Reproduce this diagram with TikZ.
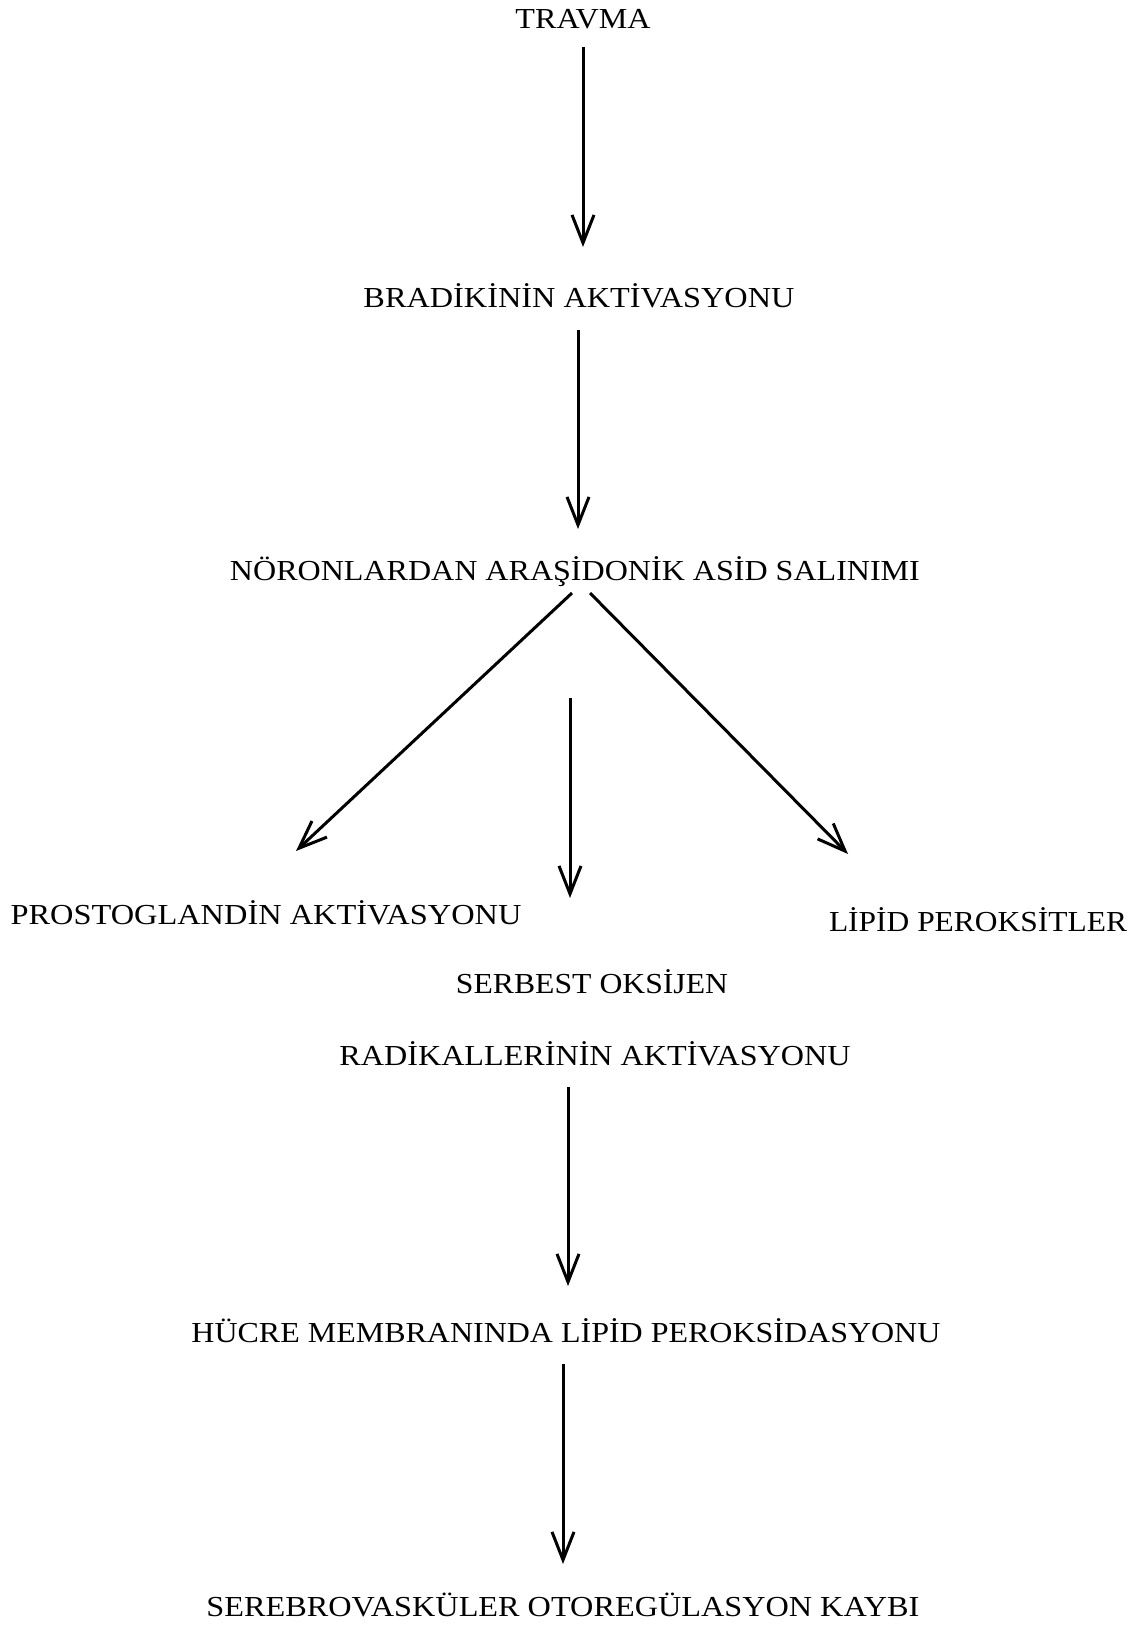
\documentclass[tikz,border=0pt]{standalone}
\usepackage{fontspec}
\setmainfont{Liberation Serif}
\usetikzlibrary{arrows.meta}
\newcommand\wfit[2]{\resizebox{#1pt}{\height}{#2}}
\tikzset{
  lbl/.style={inner sep=0pt, anchor=center, font=\fontsize{29}{32}\selectfont},
  arr/.style={line width=3pt, -{Straight Barb[length=28pt,width=22pt,line width=3pt]}}
}
\begin{document}
\begin{tikzpicture}[x=1pt,y=-1pt]
\useasboundingbox (0,0) rectangle (1140,1626);
\node[lbl] (tr) at (583,19) {\wfit{135}{TRAVMA}};
\node[lbl] (br) at (579,296) {\wfit{431}{BRADİKİNİN AKTİVASYONU}};
\node[lbl] (nr) at (575,572) {\wfit{690}{NÖRONLARDAN ARAŞİDONİK ASİD SALINIMI}};
\node[lbl] (pr) at (266,913) {\wfit{511}{PROSTOGLANDİN AKTİVASYONU}};
\node[lbl] (lp) at (978,920) {\wfit{298}{LİPİD PEROKSİTLER}};
\node[lbl] (so) at (592,982) {\wfit{272}{SERBEST OKSİJEN}};
\node[lbl] (ra) at (595,1054) {\wfit{511}{RADİKALLERİNİN AKTİVASYONU}};
\node[lbl] (hc) at (566,1331) {\wfit{749}{HÜCRE MEMBRANINDA LİPİD PEROKSİDASYONU}};
\node[lbl] (se) at (563,1605) {\wfit{713}{SEREBROVASKÜLER OTOREGÜLASYON KAYBI}};
\coordinate (a1s) at (583,47);  \coordinate (a1e) at (583,247);
\coordinate (a2s) at (578,330); \coordinate (a2e) at (578,529);
\coordinate (l1s) at (572,593); \coordinate (l1e) at (296,851);
\coordinate (r1s) at (590,593); \coordinate (r1e) at (848,854);
\coordinate (m1s) at (570,698); \coordinate (m1e) at (570,898);
\coordinate (a3s) at (568,1087); \coordinate (a3e) at (568,1286);
\coordinate (a4s) at (563,1364); \coordinate (a4e) at (563,1564);
\draw[arr] (a1s) -- (a1e);
\draw[arr] (a2s) -- (a2e);
\draw[arr] (l1s) -- (l1e);
\draw[arr] (r1s) -- (r1e);
\draw[arr] (m1s) -- (m1e);
\draw[arr] (a3s) -- (a3e);
\draw[arr] (a4s) -- (a4e);
\end{tikzpicture}
\end{document}
